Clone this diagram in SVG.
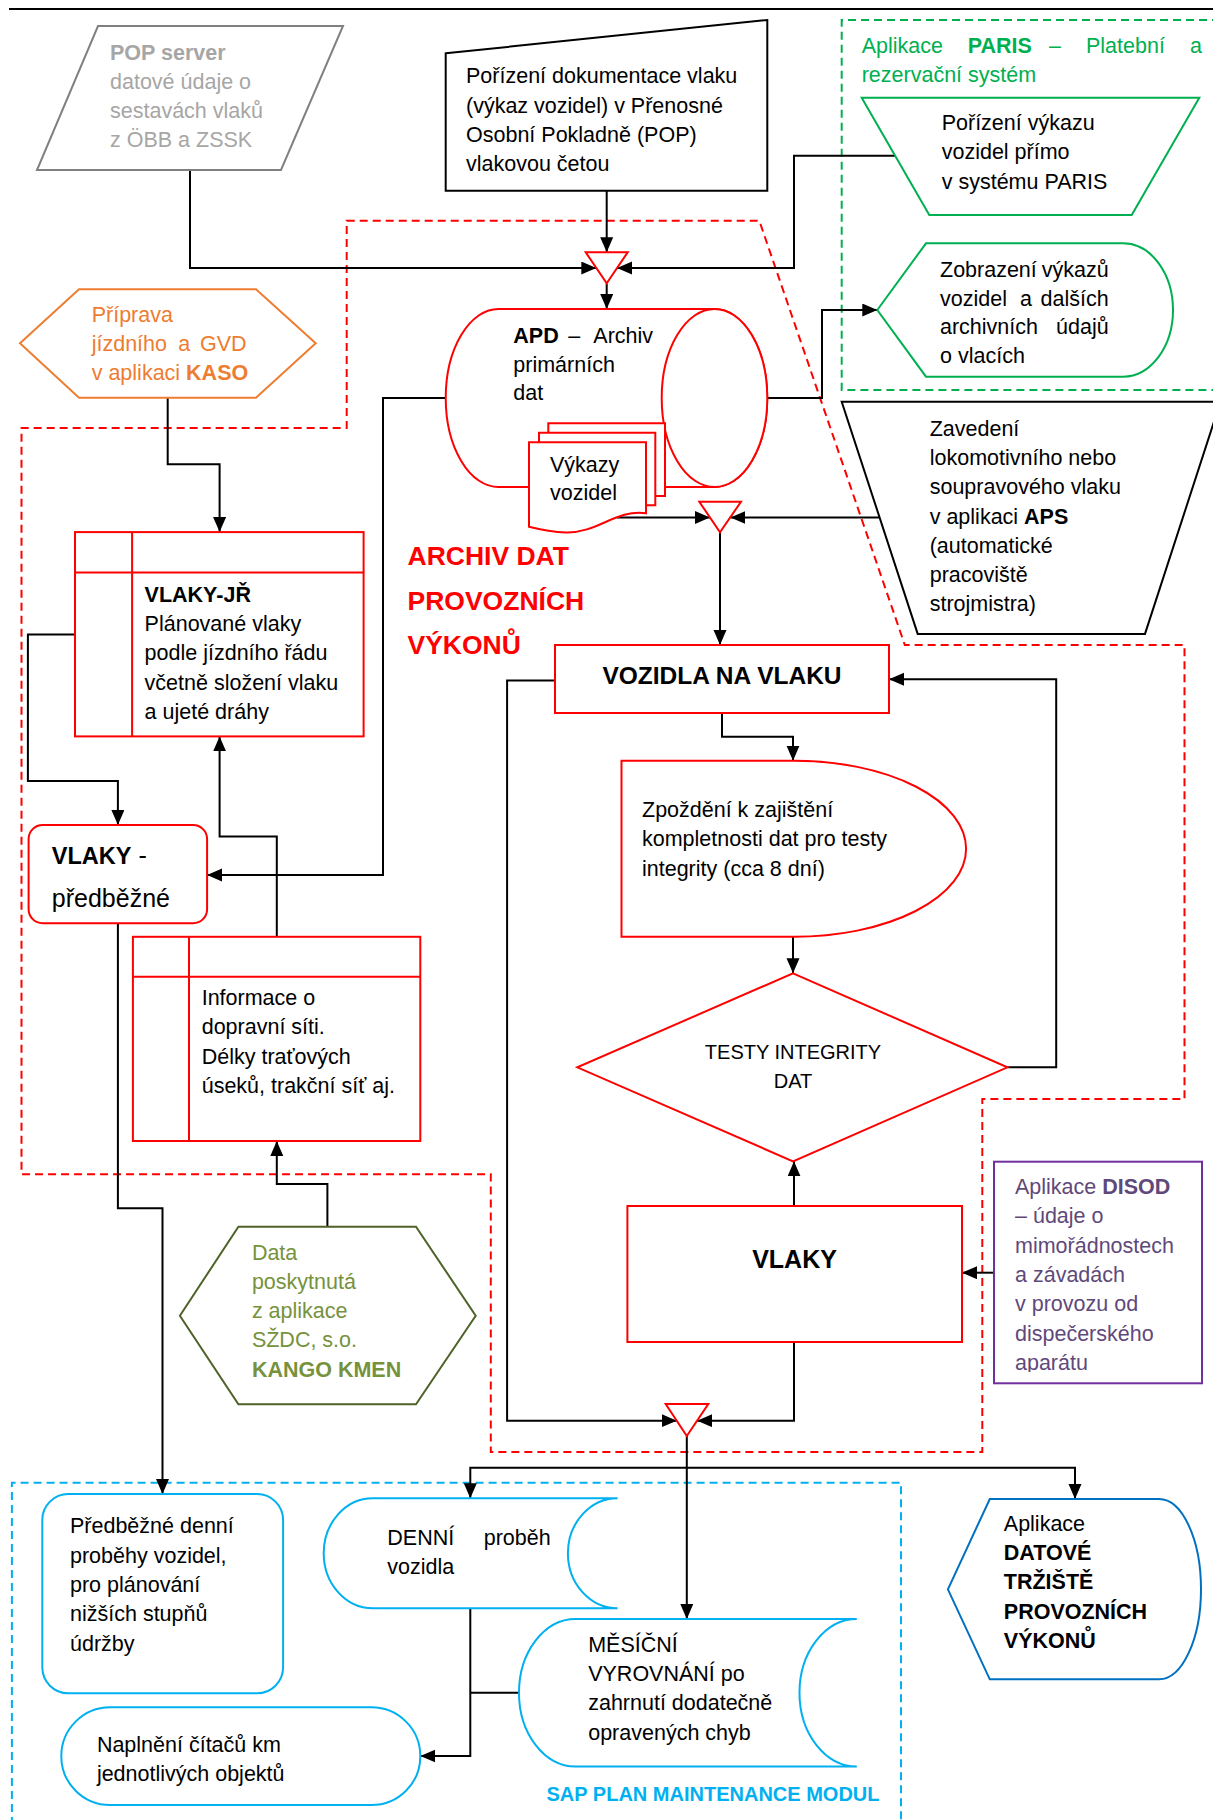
<svg xmlns="http://www.w3.org/2000/svg" width="1213" height="1820" viewBox="0 0 1213 1820">
<style>
  text { font-family: "Liberation Sans", Arial, sans-serif; font-size: 21.5px; fill: #000; }
  .b { font-weight: bold; }
  .node { fill: #fff; stroke-width: 2; }
  .red { stroke: #ff0000; }
  .conn { fill: none; stroke: #000; stroke-width: 2; }
  .arr { marker-end: url(#ah); }
  .zone { fill: none; stroke-width: 2; stroke-dasharray: 8 5; }
</style>
<defs>
  <marker id="ah" markerUnits="userSpaceOnUse" markerWidth="16" markerHeight="14" refX="15" refY="6.5" orient="auto">
    <path d="M0,0 L15,6.5 L0,13 Z" fill="#000"/>
  </marker>
  <clipPath id="disodClip"><rect x="994" y="1160" width="210" height="212"/></clipPath>
</defs>

<rect width="1213" height="1820" fill="#fff"/>
<line x1="9" y1="9" x2="1213" y2="9" stroke="#000" stroke-width="2"/>

<!-- dashed zones -->
<g id="zones">
  <path class="zone" stroke="#ff0000" d="M346.7,220.7 H759.3 L904.8,645 H1184.5 V1099 H982.3 V1452 H490.8 V1174.3 H21.5 V428 H346.7 Z"/>
  <path class="zone" stroke="#00b050" d="M1220,20 H841.7 V390 H1220"/>
  <path class="zone" stroke="#00b0f0" d="M11.9,1825 V1482.7 H901 V1825"/>
  <text x="407.5" y="565" class="b" style="font-size:26.5px;fill:#ff0000">ARCHIV DAT</text>
  <text x="407.5" y="609.5" class="b" style="font-size:26.5px;fill:#ff0000">PROVOZNÍCH</text>
  <text x="407.5" y="653.5" class="b" style="font-size:26.5px;fill:#ff0000">VÝKONŮ</text>
  <text x="861.7" y="53.3" style="fill:#00b050">Aplikace<tspan x="967.7" class="b">PARIS</tspan><tspan x="1049">–</tspan><tspan x="1086">Platební</tspan><tspan x="1190">a</tspan></text>
  <text x="861.7" y="81.7" style="fill:#00b050">rezervační systém</text>
  <text x="879.5" y="1800.7" class="b" text-anchor="end" style="font-size:20px;fill:#00b0f0">SAP PLAN MAINTENANCE MODUL</text>
</g>

<!-- connectors -->
<g id="connectors">
  <path class="conn arr" d="M190,170 V268 H596.3"/>
  <path class="conn arr" d="M606.7,190.7 V252.3"/>
  <path class="conn arr" d="M895.1,155.7 H794 V268 H617"/>
  <path class="conn arr" d="M606.7,283.3 V309"/>
  <path class="conn arr" d="M767.3,398 H822 V310 H877.3"/>
  <path class="conn arr" d="M445.7,398 H383 V875 H207.1"/>
  <path class="conn arr" d="M616.7,517.5 H709.9"/>
  <path class="conn arr" d="M879.7,517.5 H730.4"/>
  <path class="conn arr" d="M720,532.3 V645"/>
  <path class="conn arr" d="M167.7,397.7 V464.3 H219.6 V532.1"/>
  <path class="conn arr" d="M75,634.6 H27.9 V781 H117.9 V825"/>
  <path class="conn arr" d="M276.8,936.8 V836.4 H219.6 V736.4"/>
  <path class="conn arr" d="M327.4,1226.7 V1184 H276.8 V1141"/>
  <path class="conn arr" d="M117.9,923.2 V1208.3 H162.5 V1494"/>
  <path class="conn arr" d="M722,713 V736.8 H793 V760.7"/>
  <path class="conn arr" d="M793,936.8 V973.3"/>
  <path class="conn arr" d="M1007.4,1067.3 H1056.2 V679.3 H889"/>
  <path class="conn arr" d="M555,680.4 H507.1 V1420.7 H676.8"/>
  <path class="conn arr" d="M794,1206 V1161.3"/>
  <path class="conn arr" d="M794,1342 V1420.7 H697.2"/>
  <path class="conn arr" d="M994,1272.7 H962"/>
  <path class="conn arr" d="M686.8,1436 V1619"/>
  <path class="conn arr" d="M686.8,1467.7 H470.3 V1498.3"/>
  <path class="conn arr" d="M686.8,1467.7 H1075 V1499"/>
  <path class="conn arr" d="M470.3,1608.3 V1756 H420.3"/>
  <path class="conn" d="M518.9,1692.7 H470.3"/>
</g>

<!-- POP server -->
<g id="pop-server">
  <polygon class="node" stroke="#808080" points="98,26 343,26 281,170 37,170"/>
  <text x="110" y="60" class="b" style="fill:#a6a6a6">POP server</text>
  <text x="110" y="88.5" style="fill:#a6a6a6">datové údaje o</text>
  <text x="110" y="117.5" style="fill:#a6a6a6">sestavách vlaků</text>
  <text x="110" y="146.5" style="fill:#a6a6a6">z ÖBB a ZSSK</text>
</g>

<!-- Manual input: POP -->
<g id="porizeni-pop">
  <polygon class="node" stroke="#000" points="445.7,53.3 767.3,20 767.3,190.7 445.7,190.7"/>
  <text x="466" y="83.3">Pořízení dokumentace vlaku</text>
  <text x="466" y="112.6">(výkaz vozidel) v Přenosné</text>
  <text x="466" y="141.9">Osobní Pokladně (POP)</text>
  <text x="466" y="171.2">vlakovou četou</text>
</g>

<!-- merge 1 -->
<g id="merge-1">
  <polygon class="node red" points="585.7,252.3 627.7,252.3 606.7,283.3"/>
</g>

<!-- APD cylinder -->
<g id="apd">
  <path class="node red" d="M498.5,309 H714.5 A52.8,89 0 0 1 714.5,487 H498.5 A52.8,89 0 0 1 498.5,309 Z"/>
  <ellipse class="node red" cx="714.5" cy="398" rx="52.8" ry="89"/>
  <text x="513.3" y="343.3"><tspan class="b">APD</tspan><tspan x="568.3">–</tspan><tspan x="593.3">Archiv</tspan></text>
  <text x="513.3" y="371.7">primárních</text>
  <text x="513.3" y="400">dat</text>
</g>

<!-- documents -->
<g id="vykazy-vozidel">
  <path class="node red" d="M548.3,423.3 H665 V496 H548.3 Z"/>
  <path class="node red" d="M539,432.7 H655.3 V505.3 H539 Z"/>
  <path class="node red" d="M529,442.3 H646 V513.3 C616,509 598,533 566,532.5 C552,532 540,529.5 529,526.7 Z"/>
  <text x="550" y="471.7">Výkazy</text>
  <text x="550" y="500">vozidel</text>
</g>

<!-- merge 2 -->
<g id="merge-2">
  <polygon class="node red" points="699.3,501.7 741,501.7 720,532.3"/>
</g>

<!-- PARIS -->
<g id="paris-porizeni">
  <polygon class="node" stroke="#00b050" points="861.7,97.7 1199.3,97.7 1131.7,215 929.3,215"/>
  <text x="941.7" y="130">Pořízení výkazu</text>
  <text x="941.7" y="159.3">vozidel přímo</text>
  <text x="941.7" y="188.6">v systému PARIS</text>
</g>
<g id="paris-zobrazeni">
  <path class="node" stroke="#00b050" d="M877.3,310 L926,243.3 H1123 A50,66.7 0 0 1 1123,376.7 H926 Z"/>
  <text x="940" y="276.7">Zobrazení<tspan x="1108.7" text-anchor="end">výkazů</tspan></text>
  <text x="940" y="305.5">vozidel<tspan x="1020">a</tspan><tspan x="1108.7" text-anchor="end">dalších</tspan></text>
  <text x="940" y="334.3">archivních<tspan x="1108.7" text-anchor="end">údajů</tspan></text>
  <text x="940" y="363.3">o vlacích</text>
</g>

<!-- APS -->
<g id="aps">
  <polygon class="node" stroke="#000" points="841.7,401.8 1220.5,401.8 1145,633.9 917.7,633.9"/>
  <text x="929.7" y="436">Zavedení</text>
  <text x="929.7" y="465.2">lokomotivního nebo</text>
  <text x="929.7" y="494.4">soupravového vlaku</text>
  <text x="929.7" y="523.6">v aplikaci <tspan class="b">APS</tspan></text>
  <text x="929.7" y="552.8">(automatické</text>
  <text x="929.7" y="582">pracoviště</text>
  <text x="929.7" y="611.2">strojmistra)</text>
</g>

<!-- KASO -->
<g id="kaso">
  <polygon class="node" stroke="#ed7d31" points="20,343.3 79,289.3 256,289.3 315.7,343.3 256,397.7 79,397.7"/>
  <text x="91.7" y="321.7" style="fill:#ed7d31">Příprava</text>
  <text x="91.7" y="351" style="fill:#ed7d31">jízdního<tspan x="178.3">a</tspan><tspan x="200">GVD</tspan></text>
  <text x="91.7" y="380.3" style="fill:#ed7d31">v aplikaci <tspan class="b">KASO</tspan></text>
</g>

<!-- VLAKY-JŘ -->
<g id="vlaky-jr">
  <rect class="node red" x="75" y="532.1" width="288.6" height="204.3"/>
  <line class="red" stroke-width="2" x1="75" y1="572.5" x2="363.6" y2="572.5"/>
  <line class="red" stroke-width="2" x1="132.1" y1="532.1" x2="132.1" y2="736.4"/>
  <text x="144.6" y="602" class="b">VLAKY-JŘ</text>
  <text x="144.6" y="631.2">Plánované vlaky</text>
  <text x="144.6" y="660.4">podle jízdního řádu</text>
  <text x="144.6" y="689.6">včetně složení vlaku</text>
  <text x="144.6" y="718.8">a ujeté dráhy</text>
</g>

<!-- VLAKY - předběžné -->
<g id="vlaky-predbezne">
  <rect class="node red" x="28.6" y="825" width="178.5" height="98.2" rx="14"/>
  <text x="51.8" y="864.3" style="font-size:25px"><tspan class="b" style="font-size:23.5px">VLAKY</tspan> -</text>
  <text x="51.8" y="907" style="font-size:25px">předběžné</text>
</g>

<!-- Informace o dopravní síti -->
<g id="informace">
  <rect class="node red" x="132.9" y="936.8" width="287.4" height="204.2"/>
  <line class="red" stroke-width="2" x1="132.9" y1="976.7" x2="420.3" y2="976.7"/>
  <line class="red" stroke-width="2" x1="189" y1="936.8" x2="189" y2="1141"/>
  <text x="201.7" y="1005">Informace o</text>
  <text x="201.7" y="1034.3">dopravní síti.</text>
  <text x="201.7" y="1063.6">Délky traťových</text>
  <text x="201.7" y="1092.9">úseků, trakční síť aj.</text>
</g>

<!-- KANGO KMEN -->
<g id="kango">
  <polygon class="node" stroke="#4f6228" points="179.9,1315.7 238.4,1226.7 416,1226.7 475.7,1315.7 416,1404.3 238.4,1404.3"/>
  <text x="251.9" y="1260" style="fill:#76923c">Data</text>
  <text x="251.9" y="1289.3" style="fill:#76923c">poskytnutá</text>
  <text x="251.9" y="1318.3" style="fill:#76923c">z aplikace</text>
  <text x="251.9" y="1347.3" style="fill:#76923c">SŽDC, s.o.</text>
  <text x="251.9" y="1376.7" class="b" style="fill:#76923c">KANGO KMEN</text>
</g>

<!-- VOZIDLA NA VLAKU -->
<g id="vozidla-na-vlaku">
  <rect class="node red" x="555" y="645" width="334" height="68"/>
  <text x="722" y="684" class="b" text-anchor="middle" style="font-size:24.5px">VOZIDLA NA VLAKU</text>
</g>

<!-- delay -->
<g id="zpozdeni">
  <path class="node red" d="M621.5,760.7 H794 A172,88 0 0 1 794,936.8 H621.5 Z"/>
  <text x="642" y="816.5">Zpoždění k zajištění</text>
  <text x="642" y="846">kompletnosti dat pro testy</text>
  <text x="642" y="875.5">integrity (cca 8 dní)</text>
</g>

<!-- decision -->
<g id="testy-integrity">
  <polygon class="node red" points="793,973.3 1007.4,1067.3 793,1161.3 577.3,1067.3"/>
  <text x="793" y="1059.3" text-anchor="middle" style="font-size:20px">TESTY INTEGRITY</text>
  <text x="793" y="1088.3" text-anchor="middle" style="font-size:20px">DAT</text>
</g>

<!-- VLAKY -->
<g id="vlaky">
  <rect class="node red" x="627.4" y="1206" width="334.6" height="136"/>
  <text x="794.5" y="1268" class="b" text-anchor="middle" style="font-size:25px">VLAKY</text>
</g>

<!-- merge 3 -->
<g id="merge-3">
  <polygon class="node red" points="665.7,1404 708.3,1404 686.8,1436"/>
</g>

<!-- DISOD -->
<g id="disod">
  <rect class="node" stroke="#7030a0" x="994" y="1161.7" width="208" height="221.6"/>
  <g clip-path="url(#disodClip)" style="fill:#5f497a">
    <text x="1015" y="1194" style="fill:#5f497a">Aplikace <tspan class="b">DISOD</tspan></text>
    <text x="1015" y="1223.3" style="fill:#5f497a">– údaje o</text>
    <text x="1015" y="1252.6" style="fill:#5f497a">mimořádnostech</text>
    <text x="1015" y="1281.9" style="fill:#5f497a">a závadách</text>
    <text x="1015" y="1311.2" style="fill:#5f497a">v provozu od</text>
    <text x="1015" y="1340.5" style="fill:#5f497a">dispečerského</text>
    <text x="1015" y="1369.8" style="fill:#5f497a">aparátu</text>
  </g>
</g>

<!-- SAP PM nodes -->
<g id="predbezne-denni">
  <rect class="node" stroke="#00b0f0" x="42.3" y="1494" width="240.8" height="199.3" rx="26"/>
  <text x="70" y="1533.3">Předběžné denní</text>
  <text x="70" y="1562.6">proběhy vozidel,</text>
  <text x="70" y="1591.9">pro plánování</text>
  <text x="70" y="1621.2">nižších stupňů</text>
  <text x="70" y="1650.5">údržby</text>
</g>
<g id="naplneni">
  <rect class="node" stroke="#00b0f0" x="61.3" y="1707.3" width="359" height="97.7" rx="48.8"/>
  <text x="96.9" y="1751.7">Naplnění čítačů km</text>
  <text x="96.9" y="1780.5">jednotlivých objektů</text>
</g>
<g id="denni-probeh">
  <path class="node" stroke="#00b0f0" d="M372.7,1498.3 H617.6 A49.7,55 0 0 0 617.6,1608.3 H372.7 A49,55 0 0 1 372.7,1498.3 Z"/>
  <text x="387.3" y="1545">DENNÍ<tspan x="483.7">proběh</tspan></text>
  <text x="387.3" y="1573.5">vozidla</text>
</g>
<g id="mesicni-vyrovnani">
  <path class="node" stroke="#00b0f0" d="M575.5,1619 H856.8 A57.4,73.8 0 0 0 856.8,1766.6 H575.5 A56.6,73.8 0 0 1 575.5,1619 Z"/>
  <text x="588.2" y="1651.7">MĚSÍČNÍ</text>
  <text x="588.2" y="1681">VYROVNÁNÍ po</text>
  <text x="588.2" y="1710.3">zahrnutí dodatečně</text>
  <text x="588.2" y="1739.6">opravených chyb</text>
</g>

<!-- Datové tržiště -->
<g id="datove-trziste">
  <path class="node" stroke="#0070c0" d="M947.9,1589.3 L989.8,1499 H1159 A42,90.15 0 0 1 1159,1679.3 H989.8 Z"/>
  <text x="1003.8" y="1530.7">Aplikace</text>
  <text x="1003.8" y="1560" class="b">DATOVÉ</text>
  <text x="1003.8" y="1589.3" class="b">TRŽIŠTĚ</text>
  <text x="1003.8" y="1618.6" class="b">PROVOZNÍCH</text>
  <text x="1003.8" y="1647.9" class="b">VÝKONŮ</text>
</g>
</svg>
